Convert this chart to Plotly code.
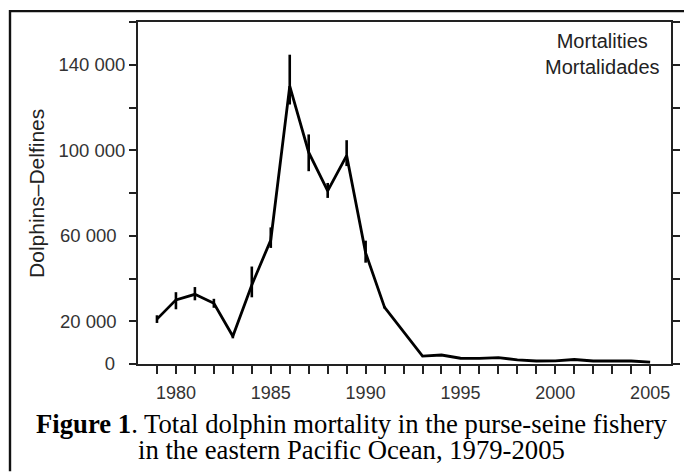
import plotly.graph_objects as go

# ---- data ----
years = list(range(1979, 2006))
mortality = [21000, 30000, 32600, 28400, 13000, 37000, 58000, 130000, 99000, 81000,
             97500, 52000, 26500, 15000, 3700, 4200, 2700, 2600, 3000, 1900,
             1400, 1500, 2100, 1400, 1400, 1400, 900]
err_plus = [1800, 3600, 3400, 2100, 1000, 8600, 5900, 14700, 8400, 3700,
            7200, 5700, 500, 0, 0, 0, 0, 0, 0, 0, 0, 0, 0, 0, 0, 0, 0]
err_minus = [1800, 4400, 2800, 2100, 1000, 5800, 3700, 8600, 8800, 3300,
             4900, 4600, 500, 0, 0, 0, 0, 0, 0, 0, 0, 0, 0, 0, 0, 0, 0]

y_tickvals = [0, 20000, 40000, 60000, 80000, 100000, 120000, 140000, 160000]
y_ticktext = ["0\u00a0\u00a0", "20 000\u00a0\u2009", "", "60 000\u00a0\u2009", "",
              "100 000", "", "140 000", ""]
x_tickvals = years
x_ticktext = [str(y) if y % 5 == 0 else "" for y in years]

caption_lines = ["<b>Figure 1</b>. Total dolphin mortality in the purse-seine fishery",
                 "in the eastern Pacific Ocean, 1979-2005"]

# ---- geometry helpers (page pixels; the page body adds an 8px margin) ----
OFF = 8
W, H = 692 - OFF, 475 - OFF
L, R, T, B = 138 - OFF, 676 - OFF, 20 - OFF, 364 - OFF


def px(x):
    return (x - OFF - L) / (R - L)


def py(y):
    return (B - (y - OFF)) / (B - T)


SANS = "Liberation Sans, Arial, sans-serif"
SERIF = "Liberation Serif, Times New Roman, serif"

caption_html = "<br>".join(
    '<span style="font-size:26.7px">' + s + "</span>" for s in caption_lines)

fig = go.Figure()
fig.add_trace(go.Scatter(
    x=years, y=mortality, mode="lines",
    line=dict(color="#000000", width=2.8),
    error_y=dict(type="data", symmetric=False, array=err_plus, arrayminus=err_minus,
                 color="#000000", thickness=2.6, width=0),
    showlegend=False, hoverinfo="x+y",
))

fig.update_layout(
    width=W, height=H,
    margin=dict(l=L, r=W - R, t=T, b=H - B, pad=0),
    paper_bgcolor="white", plot_bgcolor="white",
    font=dict(family=SANS, color="#333333", size=18),
    xaxis=dict(range=[1978.0, 2006.1], tickmode="array", tickvals=x_tickvals,
               ticktext=x_ticktext, ticks="outside", ticklen=8, tickwidth=1.5,
               tickcolor="#222222", showline=True, linecolor="#222222", linewidth=1.8,
               mirror=True, showgrid=False, zeroline=False,
               tickfont=dict(size=18, color="#333333"), ticklabelstandoff=3),
    yaxis=dict(range=[0, 160000], tickmode="array", tickvals=y_tickvals,
               ticktext=y_ticktext, ticks="outside", ticklen=7, tickwidth=1.5,
               tickcolor="#222222", showline=True, linecolor="#222222", linewidth=1.8,
               mirror="allticks", showgrid=False, zeroline=False,
               tickfont=dict(size=18.5, color="#333333")),
    annotations=[
        dict(text="Mortalities<br>Mortalidades", xref="paper", yref="paper",
             x=px(607), y=py(52.5), xanchor="center", yanchor="middle",
             showarrow=False, align="center",
             font=dict(family=SANS, size=20, color="#222222")),
        dict(text="Dolphins\u2013Delfines", xref="paper", yref="paper",
             x=px(35), y=py(192), xanchor="center", yanchor="middle",
             textangle=-90, showarrow=False,
             font=dict(family=SANS, size=21, color="#222222")),
        dict(text=caption_html,
             xref="paper", yref="paper", x=px(354), y=py(437),
             xanchor="center", yanchor="middle", showarrow=False, align="center",
             font=dict(family=SERIF, size=20, color="#000000")),
    ],
    shapes=[
        dict(type="line", xref="paper", yref="paper", x0=px(8.5), x1=px(700),
             y0=py(9), y1=py(9), line=dict(color="#111111", width=2.2)),
        dict(type="line", xref="paper", yref="paper", x0=px(8.8), x1=px(8.8),
             y0=py(8), y1=py(472), line=dict(color="#111111", width=2.4)),
    ],
)

fig.write_html("out.html")
